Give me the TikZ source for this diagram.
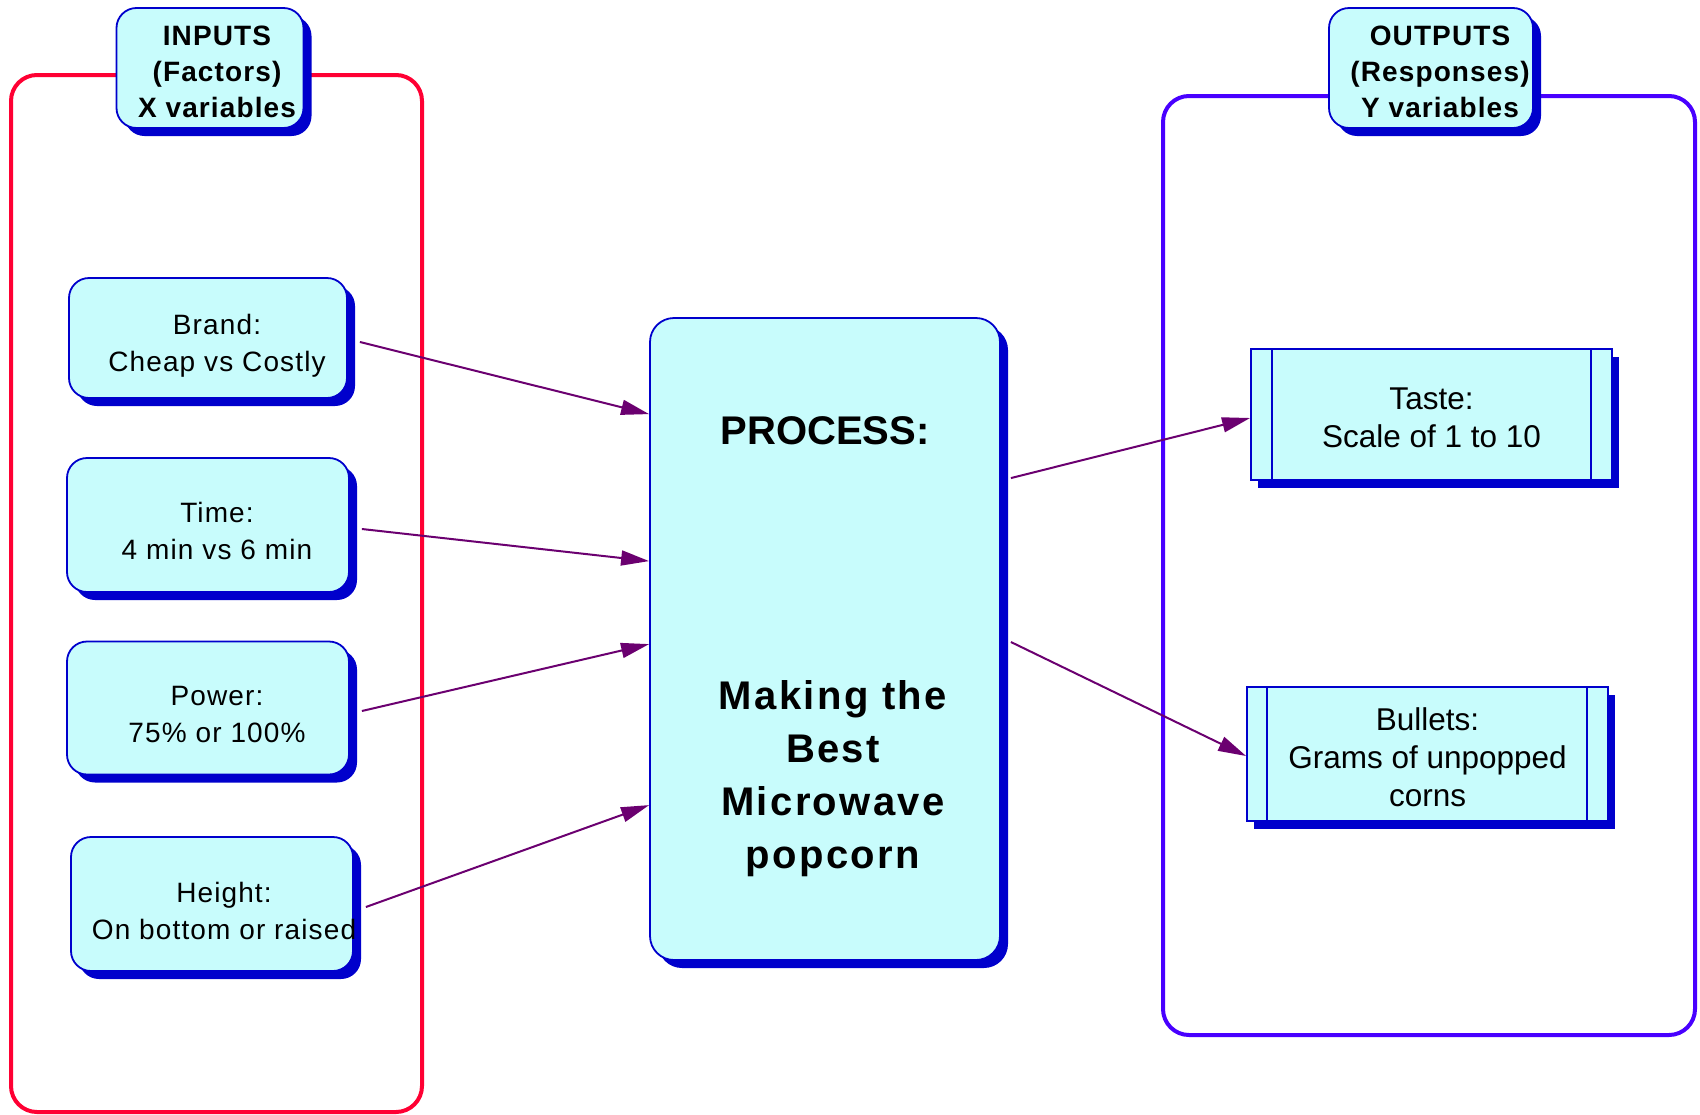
\documentclass[tikz,border=0pt]{standalone}
\usepackage{fontspec}
\setmainfont{Liberation Sans}
\usetikzlibrary{arrows.meta,shadows,calc}
\definecolor{boxfill}{RGB}{200,252,252}
\definecolor{boxblue}{RGB}{0,0,204}
\definecolor{framered}{RGB}{255,0,51}
\definecolor{frameblue}{RGB}{72,0,255}
\definecolor{arrpurple}{RGB}{107,0,112}
\begin{document}
\begin{tikzpicture}[x=1pt,y=-1pt,
  shadowed/.style={drop shadow={fill=boxblue,opacity=1,shadow xshift=8pt,shadow yshift=-8pt}},
  rbox/.style={shadowed, draw=boxblue, line width=1.8pt, fill=boxfill, rounded corners=20pt, inner sep=0pt},
  procbox/.style={rbox, rounded corners=24pt},
  outbox/.style={drop shadow={fill=boxblue,opacity=1,shadow xshift=7pt,shadow yshift=-8pt}, draw=boxblue, line width=1.8pt, fill=boxfill, inner sep=0pt},
  headtxt/.style={align=center, inner sep=0pt, font=\fontsize{28}{36}\selectfont\bfseries\addfontfeature{LetterSpace=4}},
  intxt/.style={align=center, inner sep=0pt, font=\fontsize{28}{37}\selectfont\addfontfeature{LetterSpace=4}},
  proctxt/.style={align=center, inner sep=0pt, font=\fontsize{40}{53}\selectfont\bfseries},
  outtxt/.style={align=center, inner sep=0pt, font=\fontsize{31.5}{38}\selectfont},
  frame/.style={line width=4pt, rounded corners=26pt, inner sep=0pt},
  arr/.style={draw=arrpurple, line width=2pt, -{Triangle[length=28pt,width=15pt]}},
  innerline/.style={draw=boxblue, line width=1.8pt}
]
\useasboundingbox (0,0) rectangle (1700,1114);

% group frames
\node[frame, draw=framered, minimum width=411pt, minimum height=1037pt] (inframe) at (216.5,593.5) {};
\node[frame, draw=frameblue, minimum width=532pt, minimum height=939pt] (outframe) at (1429,565.5) {};

% headers
\node[rbox, minimum width=187pt, minimum height=120pt] (inputs) at (210,68) {};
\node[headtxt] (inputstxt) at ([xshift=7pt,yshift=-4pt]inputs.center) {INPUTS\\(Factors)\\X variables};
\node[rbox, minimum width=204pt, minimum height=120pt] (outputs) at (1431,68) {};
\node[headtxt] (outputstxt) at ([xshift=9pt,yshift=-4pt]outputs.center) {OUTPUTS\\(Responses)\\Y variables};

% inputs
\node[rbox, minimum width=278pt, minimum height=120pt] (brand) at (208,338) {};
\node[intxt] (brandtxt) at ([xshift=9pt,yshift=-8pt]brand.center) {Brand:\\Cheap vs Costly};
\node[rbox, minimum width=282pt, minimum height=134pt] (time) at (208,525) {};
\node[intxt] (timetxt) at ([xshift=9pt,yshift=-6pt]time.center) {Time:\\4 min vs 6 min};
\node[rbox, minimum width=282pt, minimum height=133pt] (power) at (208,708) {};
\node[intxt] (powertxt) at ([xshift=9pt,yshift=-6pt]power.center) {Power:\\75\% or 100\%};
\node[rbox, minimum width=282pt, minimum height=134pt] (height) at (212,904) {};
\node[intxt] (heighttxt) at ([xshift=12pt,yshift=-7pt]height.center) {Height:\\On bottom or raised};

% process
\node[procbox, minimum width=350pt, minimum height=642pt] (process) at (825,639) {};
\node[proctxt] (proctitle) at ([yshift=-114pt]process.north) {PROCESS:};
\node[proctxt, anchor=north, font=\fontsize{40}{53}\selectfont\bfseries\addfontfeature{LetterSpace=6}] (procbody) at ([xshift=8pt,yshift=-363pt]process.north) {Making the\\Best\\Microwave\\popcorn};

% outputs
\node[outbox, minimum width=361pt, minimum height=131pt] (taste) at (1431.5,414.5) {};
\node[outtxt] (tastetxt) at ([yshift=-3pt]taste.center) {Taste:\\Scale of 1 to 10};
\node[outbox, minimum width=361pt, minimum height=134pt] (bullets) at (1427.5,754) {};
\node[outtxt] (bulletstxt) at ([yshift=-3pt]bullets.center) {Bullets:\\Grams of unpopped\\corns};
\draw[innerline] ([xshift=22pt]taste.north west) -- ([xshift=22pt]taste.south west);
\draw[innerline] ([xshift=-22pt]taste.north east) -- ([xshift=-22pt]taste.south east);
\draw[innerline] ([xshift=21pt]bullets.north west) -- ([xshift=21pt]bullets.south west);
\draw[innerline] ([xshift=-22pt]bullets.north east) -- ([xshift=-22pt]bullets.south east);

% connectors
\draw[arr] ([xshift=12pt,yshift=-4pt]brand.east) -- ([yshift=-97pt]process.north west);
\draw[arr] ([xshift=12pt,yshift=-4pt]time.east) -- ([yshift=-244pt]process.north west);
\draw[arr] ([xshift=12pt,yshift=-3pt]power.east) -- ([yshift=-327pt]process.north west);
\draw[arr] ([xshift=12pt,yshift=-3pt]height.east) -- ([yshift=-488pt]process.north west);
\draw[arr] ([xshift=10pt,yshift=-161pt]process.north east) -- ([yshift=-3.5pt]taste.west);
\draw[arr] ([xshift=10pt,yshift=-3pt]process.east) -- ([yshift=-2pt]bullets.west);
\end{tikzpicture}
\end{document}
